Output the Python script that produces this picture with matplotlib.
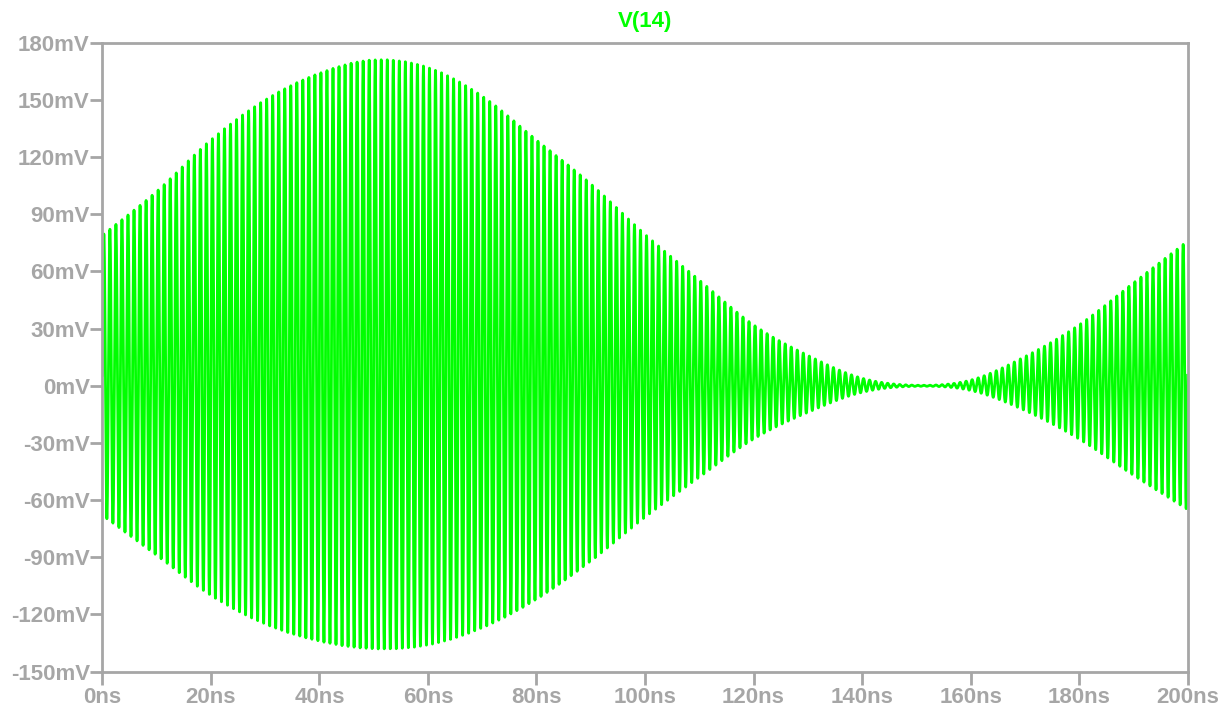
import numpy as np
import matplotlib
matplotlib.use("Agg")
import matplotlib.pyplot as plt

# ---- data ----
env_t_ns = [0, 10, 20, 30, 40, 50, 60, 70, 80, 90, 100,
            110, 120, 130, 140, 150, 160, 170, 180, 190, 200]
env_top_mv = [79, 102, 129, 150, 164, 171, 167, 152, 129, 106, 79.5,
              55.5, 32, 16, 4, 0.3, 3, 15.3, 32, 54, 76]
env_bot_mv = [-68, -89, -110, -125, -134, -138, -136, -127, -112, -92, -69,
              -48, -28, -14, -3.5, -0.3, -2.5, -13, -28, -47, -65]
carrier_ghz = 0.9

y_ticks = [-150, -120, -90, -60, -30, 0, 30, 60, 90, 120, 150, 180]
x_ticks = [0, 20, 40, 60, 80, 100, 120, 140, 160, 180, 200]
title = "V(14)"

# ---- smooth envelope (cubic Hermite through read points) ----
def hermite(xk, yk, x):
    xk = np.asarray(xk, float); yk = np.asarray(yk, float)
    n = len(xk)
    m = np.zeros(n)
    m[1:-1] = (yk[2:] - yk[:-2]) / (xk[2:] - xk[:-2])
    m[0] = (yk[1] - yk[0]) / (xk[1] - xk[0])
    m[-1] = (yk[-1] - yk[-2]) / (xk[-1] - xk[-2])
    i = np.clip(np.searchsorted(xk, x) - 1, 0, n - 2)
    h = xk[i + 1] - xk[i]
    s = (x - xk[i]) / h
    h00 = 2 * s**3 - 3 * s**2 + 1
    h10 = s**3 - 2 * s**2 + s
    h01 = -2 * s**3 + 3 * s**2
    h11 = s**3 - s**2
    return h00 * yk[i] + h10 * h * m[i] + h01 * yk[i + 1] + h11 * h * m[i + 1]

t = np.linspace(env_t_ns[0], env_t_ns[-1], 12001)
top = hermite(env_t_ns, env_top_mv, t)
bot = hermite(env_t_ns, env_bot_mv, t)
center = (top + bot) / 2
half = (top - bot) / 2
v = center + half * np.sin(2 * np.pi * carrier_ghz * t)

gray = "#a6a6a6"
green = "#00ff00"

fig = plt.figure(figsize=(12.2, 7.08), dpi=100)
ax = fig.add_axes([0.0839, 0.0513, 0.8896, 0.8884])
ax.plot(t, v, color=green, lw=2.0, solid_joinstyle="round")
ax.set_xlim(0, 200)
ax.set_ylim(-150, 180)
ax.set_xticks(x_ticks)
ax.set_xticklabels([f"{x}ns" for x in x_ticks])
ax.set_yticks(y_ticks)
ax.set_yticklabels([f"{y}mV" for y in y_ticks])
for sp in ax.spines.values():
    sp.set_color(gray)
    sp.set_linewidth(2)
ax.tick_params(axis="both", colors=gray, length=9, width=2,
               labelsize=16, labelcolor=gray)
ax.tick_params(axis="y", pad=0)
ax.tick_params(axis="x", pad=2)
for lab in ax.get_xticklabels() + ax.get_yticklabels():
    lab.set_fontfamily("Liberation Sans")
    lab.set_fontweight("bold")
ax.set_title(title, color=green, fontsize=16, fontweight="bold",
             fontfamily="Liberation Sans", pad=11)
fig.savefig("out.png", dpi=100, facecolor="white")
